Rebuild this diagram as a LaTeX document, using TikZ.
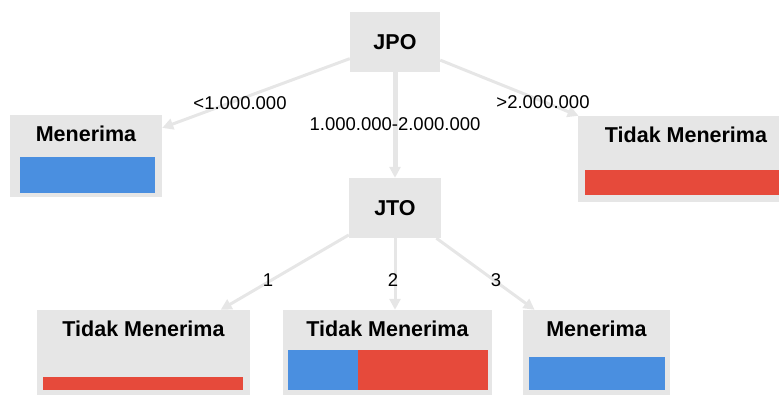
\documentclass[tikz,border=0pt]{standalone}
\usepackage{fontspec}
\setmainfont{Liberation Sans}
\usetikzlibrary{arrows.meta,positioning}
\definecolor{boxgray}{HTML}{E6E6E6}
\definecolor{edgegray}{HTML}{E6E6E6}
\definecolor{yesblue}{HTML}{4A8FE0}
\definecolor{nored}{HTML}{E64A3B}
\tikzset{
    box/.style={rectangle, fill=boxgray, inner sep=0pt},
    title/.style={font=\fontsize{21.5}{25}\selectfont\bfseries, inner sep=0pt},
    lbl/.style={font=\fontsize{18.5}{21}\selectfont, inner sep=1pt},
    edge/.style={draw=edgegray, line width=3pt, -{Triangle[length=11pt,width=11pt]}},
    mainedge/.style={edge, line width=5pt}
}
\begin{document}
\begin{tikzpicture}[x=1pt,y=-1pt]
    \useasboundingbox (0,0) rectangle (779,394);
    % split nodes
    \node[box, title, minimum width=90, minimum height=60] (jpo) at (395,42) {JPO};
    \node[box, title, minimum width=92, minimum height=60] (jto) at (395,208) {JTO};
    % leaves
    \node[box, minimum width=152, minimum height=82] (m1) at (86,156) {};
    \node[title, below=11pt of m1.north] (m1t) {Menerima};
    \node[box, minimum width=216, minimum height=86] (t1) at (686,159) {};
    \node[title, below=11pt of t1.north] (t1t) {Tidak Menerima};
    \node[box, minimum width=213, minimum height=90] (t2) at (143.5,355) {};
    \node[title, below=11pt of t2.north] (t2t) {Tidak Menerima};
    \node[box, minimum width=209, minimum height=90] (t3) at (387.5,355) {};
    \node[title, below=11pt of t3.north] (t3t) {Tidak Menerima};
    \node[box, minimum width=147, minimum height=90] (m2) at (596.5,355) {};
    \node[title, below=11pt of m2.north] (m2t) {Menerima};
    % bars
    \fill[yesblue] (20,157) rectangle (155,193);
    \fill[nored] (585,170) rectangle (790,195);
    \fill[nored] (43,377) rectangle (243,390);
    \fill[yesblue] (288,350) rectangle (358,390);
    \fill[nored] (358,350) rectangle (488,390);
    \fill[yesblue] (529,357) rectangle (665,390);
    % edges
    \draw[edge] (jpo) -- (m1);
    \draw[mainedge] (jpo) -- (jto);
    \draw[edge] (jpo) -- (t1);
    \draw[edge] (jto) -- (t2);
    \draw[edge] (jto) -- (jto |- t3.north);
    \draw[edge] (jto) -- (m2);
    % edge labels
    \node[lbl] (l1) at (240,103) {<1.000.000};
    \node[lbl] (l2) at (395,124) {1.000.000-2.000.000};
    \node[lbl] (l3) at (543,102) {>2.000.000};
    \node[lbl] (l4) at (268,280) {1};
    \node[lbl] (l5) at (393,280) {2};
    \node[lbl] (l6) at (496,280) {3};
\end{tikzpicture}
\end{document}
